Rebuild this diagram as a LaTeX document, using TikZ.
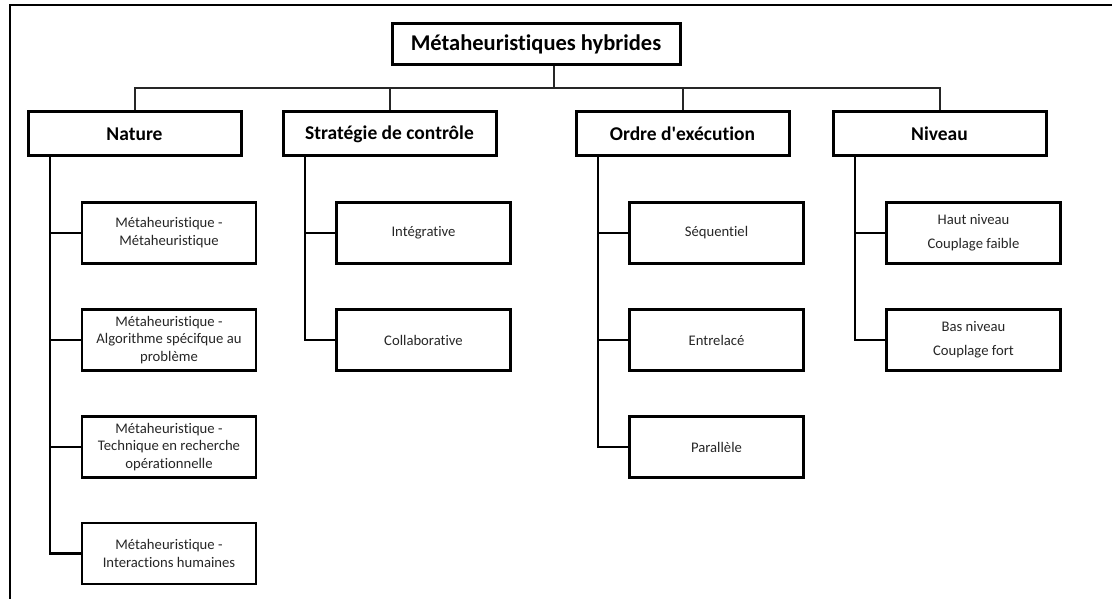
\documentclass[tikz,border=0pt]{standalone}
\usepackage{fontspec}
\setmainfont{Carlito}[Ligatures={NoCommon}]
\begin{document}
\begin{tikzpicture}[x=1pt,y=-1pt,
  toptitle/.style={draw,line width=3pt,minimum width=288pt,minimum height=41pt,inner sep=0pt,font=\fontsize{22.5}{26}\selectfont\bfseries},
  cat/.style={draw,line width=3pt,minimum width=213pt,minimum height=44pt,inner sep=0pt,font=\fontsize{19.5}{23}\selectfont\bfseries},
  leaf/.style={draw,line width=2.5pt,minimum width=174pt,minimum height=61pt,inner sep=0pt,align=center,text=black!85,font=\fontsize{14.67}{17.9}\selectfont},
  link/.style={line width=2.5pt},
  barline/.style={line width=2pt,black!85}]
\useasboundingbox (0,0) rectangle (1112,599);
% frame
\draw[line width=2pt] (10,599) -- (10,5) -- (1112,5);
% top
\node[toptitle] (top) at (536,44.5) {Métaheuristiques hybrides};
% level 1
\node[cat] (nat) at (134.5,134) {Nature};
\node[cat] (str) at (389.5,134) {Stratégie de contrôle};
\node[cat] (ord) at (682.5,134) {Ordre d\textquotesingle exécution};
\node[cat] (niv) at (939.5,134) {Niveau};
% bar
\coordinate (stem) at (554,88);
\draw[barline] (top.south -| stem) -- (stem);
\draw[barline] (nat.north) -- (nat.north |- stem) -- (niv.north |- stem) -- (niv.north);
\draw[barline] (str.north) -- (str.north |- stem);
\draw[barline] (ord.north) -- (ord.north |- stem);
% level 2 - Nature
\node[leaf] (n1) at (169,233) {Métaheuristique -\\Métaheuristique};
\node[leaf] (n2) at (169,340) {Métaheuristique -\\Algorithme spécifque au\\problème};
\node[leaf] (n3) at (169,447) {Métaheuristique -\\Technique en recherche\\opérationnelle};
\node[leaf] (n4) at (169,553.5) {Métaheuristique -\\Interactions humaines};
% Strategie
\node[leaf] (s1) at (423.5,233) {Intégrative};
\node[leaf] (s2) at (423.5,340) {Collaborative};
% Ordre
\node[leaf] (o1) at (716.5,233) {Séquentiel};
\node[leaf] (o2) at (716.5,340) {Entrelacé};
\node[leaf] (o3) at (716.5,447) {Parallèle};
% Niveau
\node[leaf] (v1) at (973.5,233) {Haut niveau\\[6pt]Couplage faible};
\node[leaf] (v2) at (973.5,340) {Bas niveau\\[6pt]Couplage fort};
% spines
\coordinate (sn) at (50,0);
\coordinate (ss) at (305,0);
\coordinate (so) at (598,0);
\coordinate (sv) at (855,0);
\draw[link] (nat.south -| sn) |- (n4.west);
\draw[link] (n1.west) -- (n1.west -| sn);
\draw[link] (n2.west) -- (n2.west -| sn);
\draw[link] (n3.west) -- (n3.west -| sn);
\draw[link] (str.south -| ss) |- (s2.west);
\draw[link] (s1.west) -- (s1.west -| ss);
\draw[link] (ord.south -| so) |- (o3.west);
\draw[link] (o1.west) -- (o1.west -| so);
\draw[link] (o2.west) -- (o2.west -| so);
\draw[link] (niv.south -| sv) |- (v2.west);
\draw[link] (v1.west) -- (v1.west -| sv);
\end{tikzpicture}
\end{document}
